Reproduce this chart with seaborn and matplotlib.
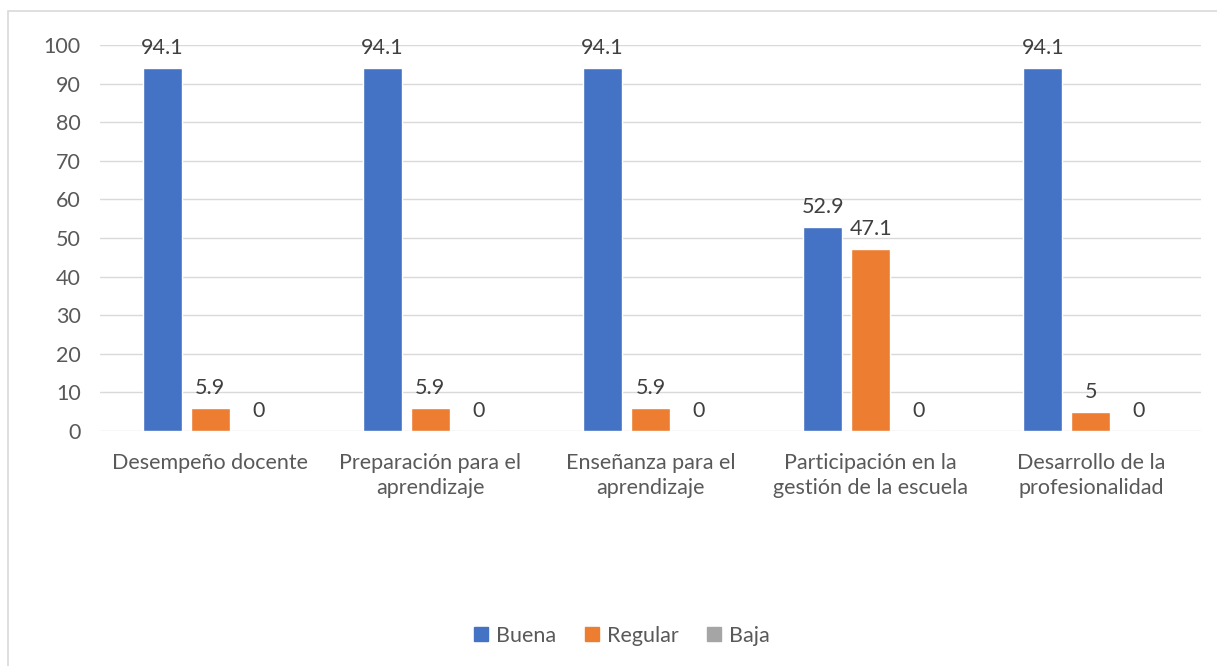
import pandas as pd
import matplotlib.pyplot as plt
import seaborn as sns
from matplotlib.patches import Rectangle
from matplotlib.lines import Line2D

categorias = [
    "Desempeño docente",
    "Preparación para el\naprendizaje",
    "Enseñanza para el\naprendizaje",
    "Participación en la\ngestión de la escuela",
    "Desarrollo de la\nprofesionalidad",
]
series = ["Buena", "Regular", "Baja"]
buena = [94.1, 94.1, 94.1, 52.9, 94.1]
regular = [5.9, 5.9, 5.9, 47.1, 5]
baja = [0, 0, 0, 0, 0]
colores = ["#4472C4", "#ED7D31", "#A5A5A5"]

df = pd.DataFrame({
    "categoria": categorias * 3,
    "nivel": [s for s in series for _ in categorias],
    "valor": buena + regular + baja,
})

sns.set_style("white")
plt.rcParams["font.family"] = ["Lato", "DejaVu Sans"]
texto = "#595959"
fs = 15.5

fig = plt.figure(figsize=(12.17, 6.66), dpi=100)
ax = fig.add_axes([0.0822, 0.3529, 0.9046, 0.5795])

sns.barplot(
    data=df, x="categoria", y="valor", hue="nivel",
    palette=colores, width=0.654, gap=0.19, ax=ax, legend=False,
    saturation=1,
)

for cont in ax.containers:
    etiquetas = [f"{v:g}" for v in cont.datavalues]
    ax.bar_label(cont, labels=etiquetas, padding=7, fontsize=fs, color="#404040")

ax.set_ylim(0, 100)
ax.set_yticks(range(0, 101, 10))
ax.set_xlim(-0.5, 4.5)
ax.yaxis.grid(True, color="#D9D9D9", linewidth=1)
ax.set_axisbelow(True)
for s in ax.spines.values():
    s.set_visible(False)
ax.tick_params(axis="both", length=0, labelsize=fs, labelcolor=texto)
ax.tick_params(axis="x", pad=16)
ax.tick_params(axis="y", pad=14)
for lbl in ax.get_xticklabels():
    lbl.set_linespacing(1.3)
ax.set_xlabel("")
ax.set_ylabel("")

handles = [Line2D([], [], marker="s", linestyle="", markersize=10.5,
                  markerfacecolor=c, markeredgecolor=c) for c in colores]
fig.legend(handles, series, loc="center", bbox_to_anchor=(0.511, 0.045),
           ncol=3, frameon=False, fontsize=fs, labelcolor=texto,
           handlelength=0.7, handletextpad=0.35, columnspacing=1.3)

# borde del área del gráfico
fig.add_artist(Rectangle((8 / 1217, -0.05), 1.2, 1 - 11 / 666 + 0.05,
                         transform=fig.transFigure, fill=False,
                         edgecolor="#D9D9D9", linewidth=1.2))

fig.savefig("out.png", dpi=100)
